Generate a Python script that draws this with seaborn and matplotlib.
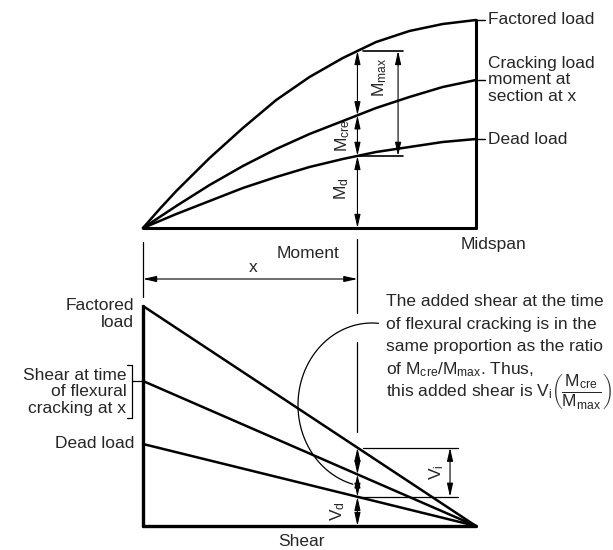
import numpy as np
import matplotlib
matplotlib.use('Agg')
import matplotlib.pyplot as plt
import seaborn as sns

# span position as a fraction of the half span (0 = support, 1 = midspan)
span = [0.0, 0.05, 0.1, 0.2, 0.3, 0.4, 0.5, 0.6, 0.7, 0.8, 0.9, 1.0]

# moment diagram (arbitrary units)
m_factored = [0, 19, 37, 70, 100, 128, 151, 170, 186, 197, 204, 208]
m_cracking = [0, 11, 22, 43, 62, 79, 94, 107, 120, 131, 141, 148]
m_dead = [0, 7, 14, 27, 40, 51, 61, 69, 76, 81, 86, 89]

# shear diagram, linear from support to midspan
shear_span = [0.0, 1.0]
v_factored = [220, 0]
v_cracking = [145, 0]
v_dead = [82, 0]

x_sec = 0.644  # section at x

curve_labels = ['Factored load', 'Cracking load\nmoment at\nsection at x', 'Dead load']

sns.set_style('white')
plt.rcParams['font.family'] = ['Liberation Sans', 'DejaVu Sans']
plt.rcParams['mathtext.fontset'] = 'custom'
plt.rcParams['mathtext.rm'] = 'Liberation Sans'
plt.rcParams['mathtext.it'] = 'Liberation Sans'
plt.rcParams['mathtext.default'] = 'rm'

FS = 12.5
LW = 1.8
K = 'black'

fig = plt.figure(figsize=(6.13, 5.5), dpi=100)
ax = fig.add_axes([0, 0, 1, 1])       # moment diagram
ax2 = fig.add_axes([0, 0, 1, 1])      # shear diagram
ax2.patch.set_alpha(0)
for a in (ax, ax2):
    a.set_xlim(-143 / 333, 470 / 333)
    a.axis('off')
ax.set_ylim(-322, 228)
ax2.set_ylim(-24, 526)


def dim(a, x0, y0, x1, y1):
    a.annotate('', xy=(x1, y1), xytext=(x0, y0),
               arrowprops=dict(arrowstyle='<|-|>,head_length=0.8,head_width=0.18',
                               lw=0.8, color=K, shrinkA=0, shrinkB=0, mutation_scale=10))


# ---- moment diagram ----
for vals in (m_factored, m_cracking, m_dead):
    sns.lineplot(x=span, y=vals, ax=ax, color=K, lw=LW)
ax.plot([0, 1], [0, 0], color=K, lw=2.2)
ax.plot([1, 1], [0, m_factored[-1]], color=K, lw=2.2)

for vals, lab in zip((m_factored, m_cracking, m_dead), curve_labels):
    ax.plot([1, 1.027], [vals[-1], vals[-1]], color=K, lw=1)
    ax.text(1.036, vals[-1], lab, fontsize=FS, va='center', ha='left', linespacing=1.15)
ax.text(1.054, -16, 'Midspan', fontsize=FS, ha='center', va='center')
ax.text(0.495, -26, 'Moment', fontsize=FS, ha='center', va='center')

mf = np.interp(x_sec, span, m_factored)
mc = np.interp(x_sec, span, m_cracking)
md = np.interp(x_sec, span, m_dead)
dim(ax, x_sec, mf, x_sec, mc)
dim(ax, x_sec, mc, x_sec, md)
dim(ax, x_sec, md, x_sec, 0)
ax.plot([0.661, 0.781], [mf, mf], color=K, lw=1.2)
ax.plot([x_sec, 0.781], [md, md], color=K, lw=1.2)
dim(ax, 0.766, mf, 0.766, md)
ax.text(0.712, 151, r'M$_{\rm max}$', rotation=90, fontsize=FS, ha='center', va='center')
ax.text(0.60, (mc + md) / 2, r'M$_{\rm cre}$', rotation=90, fontsize=FS, ha='center', va='center')
ax.text(0.598, md / 2 + 3, r'M$_{\rm d}$', rotation=90, fontsize=FS, ha='center', va='center')

# ---- shear diagram ----
for vals in (v_factored, v_cracking, v_dead):
    sns.lineplot(x=shear_span, y=vals, ax=ax2, color=K, lw=LW)
ax2.plot([0, 1], [0, 0], color=K, lw=2.4)
ax2.plot([0, 0], [0, v_factored[0]], color=K, lw=2.4)

# x dimension
ax2.plot([0, 0], [229, 284], color=K, lw=0.9)
ax2.plot([x_sec, x_sec], [213, 287], color=K, lw=0.9)
ax2.plot([x_sec, x_sec], [94, 184], color=K, lw=0.9)
dim(ax2, 0, 247, x_sec, 247)
ax2.text(0.33, 259, 'x', fontsize=FS, ha='center', va='center')

vf = np.interp(x_sec, shear_span, v_factored)
vc = np.interp(x_sec, shear_span, v_cracking)
vd = np.interp(x_sec, shear_span, v_dead)
dim(ax2, x_sec, vf, x_sec, vc)
dim(ax2, x_sec, vc, x_sec, vd)
dim(ax2, x_sec, vd, x_sec, 0)
ax2.plot([0.661, 0.946], [vf, vf], color=K, lw=0.9)
ax2.plot([x_sec, 0.946], [vd, vd], color=K, lw=0.9)
dim(ax2, 0.922, vf, 0.922, vd)
ax2.text(0.883, (vf + vd) / 2, r'V$_{\rm i}$', rotation=90, fontsize=FS, ha='center', va='center')
ax2.text(0.586, vd / 2, r'V$_{\rm d}$', rotation=90, fontsize=FS, ha='center', va='center')
ax2.text(0.477, -15, 'Shear', fontsize=FS, ha='center', va='center')

ax2.text(-0.027, v_factored[0] - 8, 'Factored\nload', fontsize=FS, ha='right', va='center', linespacing=1.1)
ax2.text(-0.027, v_dead[0], 'Dead load', fontsize=FS, ha='right', va='center')
ax2.text(-0.05, 134, 'Shear at time\nof flexural\ncracking at x', fontsize=FS, ha='right',
         va='center', linespacing=1.1)
ax2.plot([-0.047, -0.033, -0.033, -0.047], [161, 161, 108, 108], color=K, lw=0.9)
ax2.plot([-0.033, 0], [v_cracking[0], v_cracking[0]], color=K, lw=0.9)

# note with leader
note = ['The added shear at the time',
        'of flexural cracking is in the',
        'same proportion as the ratio',
        r'of M$_{\rm cre}$/M$_{\rm max}$. Thus,',
        r'this added shear is V$_{\rm i}$']
for i, line in enumerate(note):
    ax2.text(0.73, 224 - 22.5 * i, line, fontsize=FS, ha='left', va='center')
ax2.text((551 - 143) / 333, 134, r'$\left(\dfrac{M_{\rm cre}}{M_{\rm max}}\right)$', fontsize=FS,
         ha='left', va='center')

t = np.radians(np.linspace(85, 255, 100))
ax2.plot((372 + 74 * np.cos(t) - 143) / 333, 526 - (405 - 82 * np.sin(t)), color=K, lw=0.9)

fig.savefig('out.png', dpi=100, facecolor='white')
